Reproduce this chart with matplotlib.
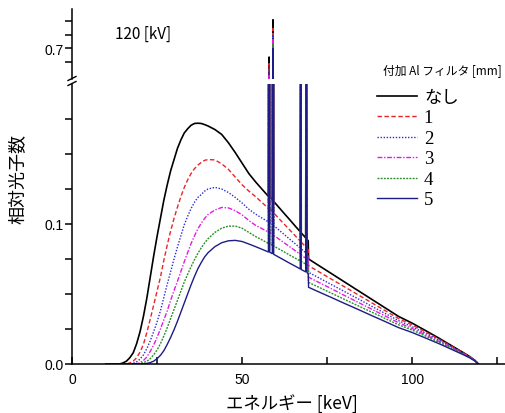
import matplotlib.pyplot as plt
from matplotlib.lines import Line2D

plt.rcParams['font.family'] = ['Liberation Sans', 'Noto Sans CJK JP', 'DejaVu Sans']

# energy grid [keV] (W characteristic lines at ~58, 59.3, 67.2, 69 keV; K-edge 69.5)
energy = [10, 12, 13, 14, 15, 16, 17, 18, 19, 20, 21, 22, 23, 24, 25, 26, 27, 28, 29, 30,
          31, 32, 33, 34, 35, 36, 37, 38, 39, 40, 42, 44, 46, 48, 50, 52, 54, 56,
          57.75, 57.95, 58.15, 58.9, 59.1, 59.3, 60, 62, 64, 66,
          67.1, 67.25, 67.4, 68, 68.7, 68.9, 69.1, 69.45, 69.55,
          72, 76, 80, 84, 88, 92, 96, 100, 104, 108, 112, 115, 117, 118.5, 119.5]

# relative photon counts per added Al filter thickness
al_none = [0, 0, 0, 0, 0.0008, 0.002, 0.0045, 0.008, 0.0145, 0.023, 0.034, 0.047, 0.062, 0.077, 0.091, 0.104, 0.117, 0.128, 0.138, 0.146,
           0.154, 0.160, 0.165, 0.168, 0.1705, 0.1718, 0.172, 0.1718, 0.171, 0.170, 0.1675, 0.164, 0.158, 0.151, 0.1435, 0.136, 0.130, 0.1245,
           0.1197, 0.684, 0.1193, 0.1172, 0.752, 0.1161, 0.1142, 0.1086, 0.1031, 0.0975,
           0.0945, 0.33, 0.0937, 0.0920, 0.0901, 0.30, 0.0890, 0.0880, 0.075,
           0.0712, 0.065, 0.0588, 0.0526, 0.0464, 0.0402, 0.034, 0.0292, 0.0238, 0.0183, 0.0125, 0.0082, 0.0052, 0.0025, 0]
al_1 = [0, 0, 0, 0, 0, 0, 0.0008, 0.002, 0.0045, 0.0085, 0.014, 0.0225, 0.032, 0.042, 0.052, 0.062, 0.074, 0.085, 0.095, 0.104,
        0.112, 0.1195, 0.126, 0.1315, 0.136, 0.1395, 0.142, 0.144, 0.1455, 0.146, 0.1458, 0.143, 0.139, 0.1335, 0.128, 0.1235, 0.1195, 0.115,
        0.1112, 0.672, 0.1108, 0.1089, 0.736, 0.1079, 0.1061, 0.1009, 0.0958, 0.0906,
        0.0878, 0.31, 0.0870, 0.0855, 0.0837, 0.29, 0.0826, 0.0817, 0.0702,
        0.0667, 0.0610, 0.0553, 0.0496, 0.0439, 0.0382, 0.0325, 0.0279, 0.0228, 0.0176, 0.0121, 0.0080, 0.0051, 0.0025, 0]
al_2 = [0, 0, 0, 0, 0, 0, 0, 0.0005, 0.0015, 0.0035, 0.0065, 0.011, 0.0165, 0.023, 0.030, 0.038, 0.0475, 0.057, 0.066, 0.075,
        0.0835, 0.0915, 0.0995, 0.1055, 0.111, 0.1155, 0.119, 0.121, 0.1235, 0.125, 0.1262, 0.125, 0.1225, 0.119, 0.115, 0.1105, 0.107, 0.104,
        0.1015, 0.66, 0.1012, 0.0996, 0.725, 0.0988, 0.0974, 0.0933, 0.0892, 0.0851,
        0.0828, 0.30, 0.0822, 0.0810, 0.0795, 0.28, 0.0787, 0.0780, 0.0655,
        0.0623, 0.0571, 0.0519, 0.0467, 0.0414, 0.0362, 0.031, 0.0266, 0.0218, 0.0169, 0.0117, 0.0077, 0.0049, 0.0024, 0]
al_3 = [0, 0, 0, 0, 0, 0, 0, 0, 0, 0.001, 0.0025, 0.005, 0.009, 0.0135, 0.019, 0.025, 0.0315, 0.038, 0.0455, 0.0525,
        0.059, 0.066, 0.073, 0.0795, 0.086, 0.0915, 0.0965, 0.1005, 0.104, 0.1068, 0.110, 0.1118, 0.1115, 0.1095, 0.1065, 0.1025, 0.099, 0.0965,
        0.0942, 0.652, 0.0939, 0.0926, 0.716, 0.0919, 0.0907, 0.0872, 0.0838, 0.0803,
        0.0784, 0.29, 0.0779, 0.0768, 0.0756, 0.27, 0.0749, 0.0743, 0.062,
        0.0590, 0.0541, 0.0491, 0.0442, 0.0393, 0.0344, 0.0295, 0.0254, 0.0208, 0.0161, 0.0112, 0.0074, 0.0047, 0.0023, 0]
al_4 = [0, 0, 0, 0, 0, 0, 0, 0, 0, 0.0003, 0.001, 0.002, 0.0038, 0.0065, 0.010, 0.0145, 0.020, 0.026, 0.0325, 0.039,
        0.0455, 0.052, 0.0585, 0.064, 0.0695, 0.0745, 0.079, 0.083, 0.0865, 0.0895, 0.094, 0.097, 0.0985, 0.0985, 0.097, 0.094, 0.091, 0.0885,
        0.086, 0.64, 0.0858, 0.0848, 0.708, 0.0842, 0.0833, 0.0806, 0.0778, 0.0751,
        0.0736, 0.28, 0.0732, 0.0724, 0.0714, 0.26, 0.0709, 0.0704, 0.0583,
        0.0555, 0.0509, 0.0463, 0.0417, 0.0372, 0.0326, 0.028, 0.0242, 0.0199, 0.0154, 0.0107, 0.0071, 0.0045, 0.0022, 0]
al_5 = [0, 0, 0, 0, 0, 0, 0, 0, 0, 0, 0, 0.0004, 0.001, 0.002, 0.0038, 0.0062, 0.0095, 0.014, 0.019, 0.0245,
        0.0305, 0.037, 0.0435, 0.050, 0.0565, 0.0625, 0.068, 0.0725, 0.0765, 0.0795, 0.0838, 0.0866, 0.088, 0.0883, 0.0875, 0.0857, 0.0838, 0.0818,
        0.080, 0.63, 0.0798, 0.0788, 0.70, 0.0783, 0.0774, 0.0747, 0.072, 0.0694,
        0.0679, 0.27, 0.0675, 0.0667, 0.0658, 0.25, 0.0652, 0.0648, 0.0548,
        0.0521, 0.0478, 0.0434, 0.0391, 0.0347, 0.0304, 0.026, 0.0225, 0.0185, 0.0144, 0.01, 0.0067, 0.0043, 0.0021, 0]

labels = ["なし", "1", "2", "3", "4", "5"]
series = [al_none, al_1, al_2, al_3, al_4, al_5]
styles = [
    dict(color="black", lw=1.2, ls="-"),
    dict(color="#e8262a", lw=1.0, dashes=(3.2, 1.8)),
    dict(color="#2b2bd6", lw=1.0, dashes=(1.0, 1.2)),
    dict(color="#e01ee0", lw=1.0, dashes=(3.5, 1.2, 1.0, 1.2)),
    dict(color="#2a8f2a", lw=1.0, dashes=(1.4, 0.9)),
    dict(color="#1c1c86", lw=1.0, ls="-"),
]

W, H = 506, 414
fig = plt.figure(figsize=(W / 100, H / 100), dpi=100)


def px_box(left, top, right, bottom):
    return [left / W, 1 - bottom / H, (right - left) / W, (bottom - top) / H]


ax = fig.add_axes(px_box(72, 85, 506, 365))
ax_top = fig.add_axes(px_box(72, 10, 506, 79.6), sharex=ax)

for ys, lab, st in zip(series, labels, styles):
    ax.plot(energy, ys, label=lab, **st)
    ax_top.plot(energy, ys, **st)

ax.set_xlim(0, 127.6)
ax.set_ylim(0, 0.2)
ax_top.set_ylim(0.6447, 0.7717)

for a in (ax, ax_top):
    a.spines["top"].set_visible(False)
    a.spines["right"].set_visible(False)
    a.spines["left"].set_linewidth(1.1)
    a.spines["bottom"].set_linewidth(1.1)
ax_top.spines["bottom"].set_visible(False)

ax.set_xticks([0, 50, 100])
ax.set_xticks([25, 75, 125], minor=True)
ax.set_yticks([0.0, 0.1])
ax.set_yticklabels(["0.0", "0.1"])
ax.set_yticks([0.025, 0.05, 0.075, 0.125, 0.15, 0.175], minor=True)
ax.tick_params(axis="x", which="both", direction="in", length=5, width=1.1, pad=6, labelsize=10)
ax.tick_params(axis="y", which="both", direction="out", length=5, width=1.1, pad=1, labelsize=10)

ax_top.set_yticks([0.7])
ax_top.set_yticklabels(["0.7"])
ax_top.set_yticks([0.675, 0.725, 0.75], minor=True)
ax_top.tick_params(axis="y", which="both", direction="out", length=5, width=1.1, pad=1, labelsize=10)
ax_top.tick_params(axis="x", which="both", bottom=False, labelbottom=False)

# axis break marks
for y0 in (81.5, 86.5):
    fig.add_artist(Line2D([68 / W, 76 / W], [1 - y0 / H, 1 - (y0 - 4) / H], color="black", lw=1.0))

fig.text(18 / W, 1 - 179 / H, "相対光子数", rotation=90, ha="center", va="center",
         fontsize=13, family=["Noto Sans CJK JP", "DejaVu Sans"])
fig.text(292 / W, 1 - 404 / H, "エネルギー [keV]", ha="center", va="center",
         fontsize=12.5, family=["Noto Sans CJK JP", "DejaVu Sans"])
fig.text(115 / W, 1 - 34 / H, "120 [kV]", ha="left", va="center", fontsize=11,
         family=["Noto Sans CJK JP", "DejaVu Sans"])
fig.text(383 / W, 1 - 72 / H, "付加 Al フィルタ [mm]", ha="left", va="center", fontsize=8.5,
         family=["Noto Sans CJK JP", "DejaVu Sans"])

leg = ax.legend(loc="upper left", bbox_to_anchor=(377 / W, 1 - 89 / H), bbox_transform=fig.transFigure,
                frameon=False, fontsize=12.5, borderpad=0, borderaxespad=0,
                handlelength=2.3, handletextpad=0.4, labelspacing=0.2)
texts = leg.get_texts()
texts[0].set_fontfamily(["Noto Sans CJK JP", "DejaVu Sans"])
for t in texts[1:]:
    t.set_fontfamily("Liberation Serif")
    t.set_fontsize(13.5)

fig.savefig("out.png", dpi=100)
